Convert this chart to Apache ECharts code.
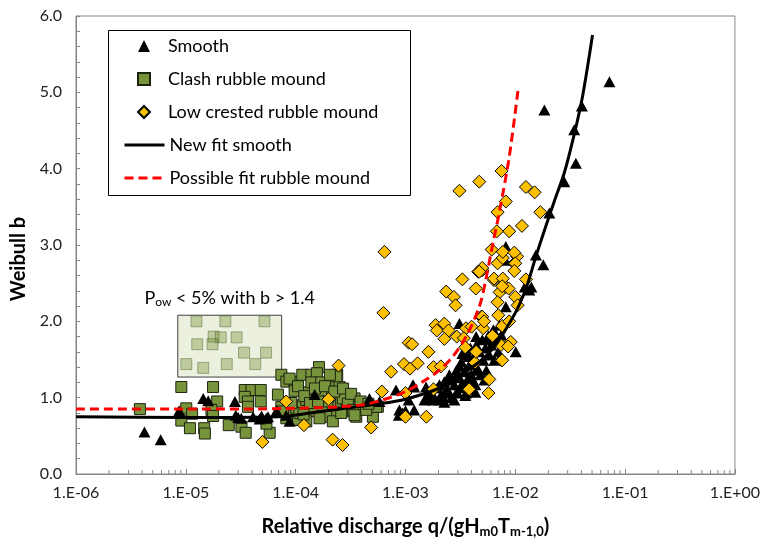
<!DOCTYPE html>
<html>
<head>
<meta charset="utf-8">
<script src="https://cdn.jsdelivr.net/npm/echarts@6/dist/echarts.min.js"></script>
<style>html,body{margin:0;padding:0;background:#fff}#chart{width:763px;height:545px}</style>
</head>
<body>
<div id="chart"></div>
<script>
// [q/(g Hm0 Tm-1,0), Weibull b]
var smoothPts = [
    [4.2e-6,0.55],[5.9e-6,0.45],[8.7e-6,0.83],[1.44e-5,0.99],[1.6e-5,0.96],[2.8e-5,0.95],[2.85e-5,0.77],
    [3.0e-5,0.74],[3.2e-5,0.73],[4.1e-5,0.75],[4.7e-5,0.72],[4.9e-5,0.76],[5.4e-5,0.73],[5.6e-5,0.75],
    [6.7e-5,0.83],[8.2e-5,0.77],[8.8e-5,0.69],[1.49e-4,1.04],[4.7e-4,0.99],[5.8e-4,0.95],[8.2e-4,1.10],
    [8.7e-4,0.77],[8.8e-4,0.84],[9.4e-4,0.80],[1.0e-3,0.83],[1.07e-3,0.97],[1.17e-3,1.17],[1.2e-3,0.84],
    [1.2e-3,1.14],[1.54e-3,1.14],[1.65e-3,1.01],[1.78e-3,0.97],[2.04e-3,1.17],[2.04e-3,0.97],[2.2e-3,1.01],
    [2.34e-3,1.10],[2.5e-3,1.23],[2.5e-3,1.06],[2.9e-3,1.28],[2.9e-3,1.06],[3.1e-3,1.41],[3.1e-3,1.97],
    [3.3e-3,1.19],[3.3e-3,1.58],[3.56e-3,1.06],[3.8e-3,1.54],[3.8e-3,1.28],[4.1e-3,1.23],[4.4e-3,1.80],
    [4.4e-3,1.36],[1.49e-3,0.97],[1.65e-3,1.07],[1.84e-3,1.00],[1.95e-3,1.13],[2.12e-3,1.04],[2.26e-3,1.21],
    [2.41e-3,1.10],[2.51e-3,1.30],[2.62e-3,1.00],[2.79e-3,1.17],[2.91e-3,1.36],[2.97e-3,1.07],[3.1e-3,1.26],
    [3.23e-3,1.47],[3.3e-3,1.13],[3.44e-3,1.34],[3.51e-3,1.56],[3.66e-3,1.21],[3.82e-3,1.43],[3.9e-3,1.65],
    [3.98e-3,1.30],[4.15e-3,1.52],[4.33e-3,1.17],[4.42e-3,1.69],[4.51e-3,1.39],[4.71e-3,1.60],[4.81e-3,1.30],
    [5.01e-3,1.76],[5.12e-3,1.49],[5.34e-3,1.65],[5.45e-3,1.36],[5.68e-3,1.81],[5.8e-3,1.56],[6.05e-3,1.69],
    [6.31e-3,1.89],[6.44e-3,1.49],[6.72e-3,1.76],[7.0e-3,1.60],[7.16e-3,1.95],[7.46e-3,1.82],[5.23e-3,1.23],
    [4.33e-3,1.07],[3.51e-3,1.03],[2.79e-3,0.97],[2.26e-3,0.94],[5.8e-3,1.76],[6.4e-3,1.87],[8.1e-3,2.80],
    [8.2e-3,2.98],[8.2e-3,2.19],[1.01e-2,1.60],[1.22e-2,2.45],[1.34e-2,2.41],[1.4e-2,2.45],[1.54e-2,2.87],
    [1.8e-2,2.74],[2.04e-2,3.42],[2.79e-2,3.83],[3.56e-2,4.07],[3.44e-2,4.51],[4.04e-2,4.82],[1.84e-2,4.77],
    [7.2e-2,5.14]
];
var clashPts = [
    [3.82e-6,0.85],[9.1e-6,1.14],[1.01e-5,0.86],[1.14e-5,0.79],[9.1e-6,0.70],[1.09e-5,0.60],[1.47e-5,0.60],
    [1.49e-5,0.53],[1.77e-5,1.14],[1.93e-5,0.95],[1.71e-5,0.84],[1.77e-5,0.76],[2.46e-5,0.64],[3.21e-5,0.62],
    [3.51e-5,0.54],[3.44e-5,1.10],[3.96e-5,1.10],[4.81e-5,1.10],[4.81e-5,0.95],[3.44e-5,1.01],[3.68e-5,0.95],
    [3.68e-5,0.88],[5.8e-5,0.54],[5.42e-5,0.66],[7.41e-5,1.30],[8.23e-5,1.21],[9.79e-5,1.21],[1.15e-4,1.30],
    [1.39e-4,1.30],[1.63e-4,1.40],[1.56e-4,1.32],[9.79e-5,1.09],[1.29e-4,1.07],[1.39e-4,1.20],[1.71e-4,1.20],
    [2.18e-4,1.22],[2.39e-4,1.30],[2.51e-4,1.14],[2.11e-4,1.04],[1.71e-4,1.08],[6.9e-5,1.04],[7.41e-5,0.88],
    [9.14e-5,0.90],[1.01e-4,0.84],[1.16e-4,0.90],[1.44e-4,0.82],[1.77e-4,0.84],[2.18e-4,0.88],[2.6e-4,0.95],
    [2.99e-4,0.99],[3.44e-4,0.99],[3.56e-4,0.88],[3.1e-4,0.88],[2.99e-4,0.82],[2.34e-4,0.80],[1.9e-4,0.75],
    [1.65e-4,0.73],[1.25e-4,0.69],[1.09e-4,0.71],[9.45e-5,0.71],[8.23e-5,0.73],[2.18e-4,0.69],[4.39e-4,0.86],
    [5.05e-4,0.75],[5.6e-4,0.88],[3.56e-4,0.75],[7.67e-5,0.82],[2.89e-4,0.97],[2.35e-4,1.28],[1.25e-4,0.97],
    [2.69e-4,0.99],[2.99e-4,0.92],[3.32e-4,0.84],[5.42e-4,0.88],[4.39e-4,0.84],[2.6e-4,0.80],[1.05e-4,0.71],
    [1.08e-4,0.80],[9.14e-5,0.93],[3.44e-4,0.77],[8.8e-5,1.25],[1.05e-4,1.15],[1.2e-4,1.02],[1.35e-4,0.93],
    [1.5e-4,1.12],[1.85e-4,1.15],[1.95e-4,0.95],[2.25e-4,1.08],[2.7e-4,1.12],[3.2e-4,1.05],[3.9e-4,0.95],
    [2.05e-4,1.30],[1.6e-4,0.95],[1.18e-4,0.78],[4.6e-4,0.92]
];
var lowCrestedPts = [
    [4.98e-5,0.42],[8.2e-5,0.95],[1.19e-4,0.64],[1.99e-4,0.98],[2.46e-4,1.42],[2.17e-4,0.45],[2.67e-4,0.38],
    [4.87e-4,0.61],[6.1e-4,1.08],[7.4e-4,1.34],[6.44e-4,2.91],[6.3e-4,2.11],[1.0e-3,0.75],[1.55e-3,0.75],
    [1.0e-3,1.06],[9.7e-4,1.44],[1.1e-3,1.38],[1.29e-3,1.45],[1.62e-3,1.60],[1.8e-3,1.40],[2.1e-3,1.41],
    [1.07e-3,1.72],[1.15e-3,1.70],[1.88e-3,1.95],[1.93e-3,1.88],[2.26e-3,1.97],[2.47e-3,1.88],[2.26e-3,1.77],
    [2.93e-3,1.80],[3.56e-3,1.91],[3.4e-3,1.78],[4.0e-3,1.93],[3.5e-3,1.66],[4.37e-3,1.60],[4.3e-3,1.46],
    [3.8e-3,1.11],[5.7e-3,1.06],[5.8e-3,1.24],[1.8e-3,1.11],[2.35e-3,2.39],[2.76e-3,2.32],[2.86e-3,2.21],
    [3.3e-3,2.55],[4.37e-3,2.43],[4.6e-3,2.65],[4.9e-3,2.06],[5.1e-3,1.91],[6.2e-3,1.81],[7.6e-3,1.94],
    [8.8e-3,2.00],[9.1e-3,1.73],[7.4e-3,1.69],[8.6e-3,1.67],[7.5e-3,1.49],[1.0e-2,2.32],[1.05e-2,2.21],
    [1.25e-2,2.55],[6.4e-3,2.54],[7.2e-3,2.38],[6.9e-3,2.25],[5.0e-3,2.67],[6.9e-3,2.76],[7.7e-3,2.83],
    [9.8e-3,2.76],[1.04e-2,2.85],[8.2e-3,2.45],[3.1e-3,3.71],[4.7e-3,3.83],[1.25e-2,3.76],[1.5e-2,3.69],
    [8.2e-3,3.57],[1.69e-2,3.43],[6.9e-3,3.43],[1.15e-2,3.25],[8.8e-3,3.18],[6.8e-3,3.18],[6.1e-3,2.94],
    [7.7e-3,2.91],[9.8e-3,2.90],[1.0e-2,2.76],[5.0e-3,2.70],[4.7e-3,2.65],[9.8e-3,2.66],[6.4e-3,2.56],
    [7.7e-3,2.56],[8.7e-3,2.43],[7.6e-3,2.46],[7.0e-3,2.08],[5.0e-3,2.06],[5.2e-3,2.00],[4.4e-3,1.60],
    [7.5e-3,3.97],[7.6e-3,1.49]
];
var fitSmooth = [
    [1e-6,0.75],[1e-5,0.74],[7e-5,0.75],[1.7e-4,0.82],[5.8e-4,0.92],[1e-3,0.98],[2e-3,1.12],[3e-3,1.27],
    [5e-3,1.50],[6.7e-3,1.70],[8.8e-3,1.97],[1.09e-2,2.22],[1.3e-2,2.50],[1.54e-2,2.85],[1.9e-2,3.25],
    [2.3e-2,3.6],[2.8e-2,3.95],[3.44e-2,4.45],[4.1e-2,4.95],[5.05e-2,5.75]
];
var fitRubble = [
    [1e-6,0.85],[1e-5,0.85],[1e-4,0.86],[3.8e-4,0.90],[6.2e-4,0.97],[1e-3,1.08],[1.44e-3,1.21],[2.04e-3,1.36],
    [2.7e-3,1.54],[3.56e-3,1.80],[4.7e-3,2.19],[5.4e-3,2.55],[6.0e-3,2.89],[7.2e-3,3.45],[8.8e-3,4.15],
    [1.07e-2,5.08]
];
// the inset "P_ow < 5%" sample box and its points
var powBox = [[8.45e-6,2.08],[7.46e-5,1.27]];
var powPts = [
    [1.25e-5,2.00],[2.29e-5,2.00],[5.2e-5,2.00],[1.79e-5,1.80],[2.08e-5,1.79],[2.9e-5,1.79],[1.27e-5,1.70],
    [1.75e-5,1.70],[3.39e-5,1.59],[5.38e-5,1.59],[1.01e-5,1.44],[1.44e-5,1.39],[2.36e-5,1.44],[4.29e-5,1.44]
];
var markerNames = ['Smooth','Clash rubble mound','Low crested rubble mound'];
var lineNames = ['New fit smooth','Possible fit rubble mound'];
// log axis minor ticks at 2..9 of each decade
var minorMantissa = [2,3,4,5,6,7,8,9];
var decades = [-6,-5,-4,-3,-2,-1];
var minorTicks = [];
decades.forEach(function (d) {
    minorMantissa.forEach(function (m) { minorTicks.push([m * Math.pow(10, d), 0]); });
});

function expLabel(v){
    var e = Math.round(Math.log10(v));
    var s = Math.abs(e);
    return '1.E' + (e < 0 ? '-' : '+') + (s < 10 ? '0' : '') + s;
}

var font = 'Lato';
var grey = '#868686';
var chart = echarts.init(document.getElementById('chart'));
var option = {
    animation: false,
    grid: {left: 76, right: 27, top: 16, bottom: 71, show: true, borderColor: grey, borderWidth: 1},
    graphic: [{
        type: 'rect', left: 108, top: 30, z: 3,
        shape: {width: 302, height: 165},
        style: {fill: '#fff', stroke: '#000', lineWidth: 1}
    }],
    legend: [{
        data: markerNames,
        orient: 'vertical', left: 137, top: 37, padding: 0,
        itemWidth: 12, itemHeight: 12, itemGap: 15,
        textStyle: {fontFamily: font, fontSize: 18, color: '#000', padding: [0, 0, 0, 13]}
    }, {
        data: lineNames.map(function (n) { return {name: n, itemStyle: {opacity: 0}}; }),
        orient: 'vertical', left: 123, top: 136, padding: 0,
        itemWidth: 40, itemHeight: 14, itemGap: 15,
        lineStyle: {width: 3},
        textStyle: {fontFamily: font, fontSize: 18, color: '#000'}
    }],
    xAxis: {
        type: 'log', logBase: 10, min: 1e-6, max: 1,
        name: 'Relative discharge q/(gH{s|m0}T{s|m-1,0})',
        nameLocation: 'middle', nameGap: 42,
        nameTextStyle: {fontFamily: font, fontSize: 20, fontWeight: 'bold', color: '#000',
            rich: {s: {fontFamily: font, fontSize: 13, fontWeight: 'bold', color: '#000', padding: [9, 0, 0, 0]}}},
        axisLine: {lineStyle: {color: grey}},
        axisTick: {inside: true, length: 5, lineStyle: {color: grey}},
        splitLine: {show: false},
        axisLabel: {formatter: expLabel, fontFamily: font, fontSize: 16, color: '#222', margin: 11}
    },
    yAxis: {
        type: 'value', min: 0, max: 6, interval: 1,
        name: 'Weibull b', nameLocation: 'middle', nameGap: 41,
        nameTextStyle: {fontFamily: font, fontSize: 20, fontWeight: 'bold', color: '#000', padding: [0, 28, 0, 0]},
        axisLine: {show: true, lineStyle: {color: grey}},
        axisTick: {show: true, inside: true, length: 4, lineStyle: {color: grey}},
        minorTick: {show: true, splitNumber: 5, length: 4, lineStyle: {color: grey}},
        splitLine: {show: false},
        axisLabel: {formatter: function (v) { return v.toFixed(1); }, fontFamily: font, fontSize: 16, color: '#222', margin: 14}
    },
    series: [{
        name: 'minorTicks', type: 'custom', data: minorTicks, z: 1, silent: true,
        renderItem: function (params, api) {
            var p = api.coord([api.value(0), api.value(1)]);
            return {type: 'line', shape: {x1: p[0], y1: p[1], x2: p[0], y2: p[1] - 4},
                style: {stroke: grey, lineWidth: 1}};
        }
    }, {
        name: 'powbox', type: 'scatter', data: [], z: 1,
        markArea: {
            silent: true,
            itemStyle: {color: '#ebf1de', borderColor: '#404040', borderWidth: 1},
            label: {show: true, position: 'top', distance: 7, formatter: 'P{s|ow} < 5% with b > 1.4',
                fontFamily: font, fontSize: 18, color: '#000',
                rich: {s: {fontFamily: font, fontSize: 12, color: '#000', padding: [8, 0, 0, 0]}}},
            data: [[{coord: powBox[0]}, {coord: powBox[1]}]]
        }
    }, {
        name: 'pow', type: 'scatter', data: powPts, z: 2, symbol: 'rect', symbolSize: 11,
        itemStyle: {color: '#77933c', borderColor: '#3a4a1c', borderWidth: 1, opacity: 0.4}
    }, {
        name: 'Clash rubble mound', type: 'scatter', data: clashPts, z: 3, symbol: 'rect', symbolSize: 11,
        itemStyle: {color: '#77933c', borderColor: '#1d2410', borderWidth: 1, opacity: 1}
    }, {
        name: 'Smooth', type: 'scatter', data: smoothPts, z: 4, symbol: 'triangle', symbolSize: [12, 11],
        itemStyle: {color: '#000', opacity: 1}
    }, {
        name: 'Low crested rubble mound', type: 'scatter', data: lowCrestedPts, z: 5, symbol: 'diamond', symbolSize: 13,
        itemStyle: {color: '#ffc000', borderColor: '#000', borderWidth: 1, opacity: 1}
    }, {
        name: 'New fit smooth', type: 'line', data: fitSmooth, z: 6, symbol: 'none', smooth: 0.3,
        lineStyle: {color: '#000', width: 3}, itemStyle: {color: '#000'}
    }, {
        name: 'Possible fit rubble mound', type: 'line', data: fitRubble, z: 6, symbol: 'none', smooth: 0.3,
        lineStyle: {color: '#ff0000', width: 3, type: [9, 5]}, itemStyle: {color: '#ff0000'}
    }]
};
chart.setOption(option);
</script>
</body>
</html>
